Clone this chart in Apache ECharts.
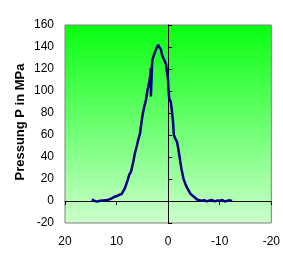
<!DOCTYPE html>
<html>
<head>
<meta charset="utf-8">
<script src="https://cdn.jsdelivr.net/npm/echarts@6/dist/echarts.min.js"></script>
<style>html,body{margin:0;padding:0;background:#fff}#c{width:283px;height:270px}</style>
</head>
<body>
<div id="c"></div>
<script>
var xValues = [14.8, 14.4, 14.1, 13.7, 13.2, 12.9, 12.4, 11.85, 11.4, 10.95, 10.4, 9.9, 9.45, 9.0, 8.65, 8.4, 8.1, 7.85, 7.55, 7.2, 6.9, 6.7, 6.45, 6.1, 5.8, 5.45, 5.25, 5.05, 4.9, 4.7, 4.45, 4.3, 4.0, 3.65, 3.45, 3.35, 3.35, 3.1, 2.95, 2.7, 2.5, 2.25, 1.95, 1.7, 1.4, 1.2, 0.95, 0.65, 0.4, 0.25, 0.05, -0.05, -0.2, -0.5, -0.7, -0.95, -1.1, -1.35, -1.7, -1.95, -2.25, -2.55, -2.95, -3.4, -3.9, -4.4, -5.0, -5.5, -6.0, -6.5, -7.0, -7.5, -8.0, -8.5, -9.0, -9.5, -10.0, -10.5, -11.0, -11.5, -12.0, -12.4];
var pressure = [1.5, 0.3, -1.2, -0.6, 0.3, -1.2, 0.6, 0.9, 1.5, 2.4, 3.9, 4.5, 5.7, 6.4, 7.6, 11.5, 15.5, 18.9, 23.7, 26.7, 32.8, 37, 43.4, 49.5, 55.6, 61.6, 69, 75.3, 79.8, 84.4, 89, 92, 101, 108.7, 114.8, 121, 95, 127, 130, 131.5, 136, 139, 142, 141.5, 137.5, 133, 130, 127, 124, 118, 112, 102.6, 93, 90.4, 83, 72, 60, 57, 54, 48, 38.9, 29.8, 20.6, 14.6, 10, 6.1, 3.9, 1.8, 0.6, 0.2, 0.8, -0.3, 0.5, 0.9, -0.4, 0.4, 0.2, 0.9, -0.5, 0.3, 0.6, 0.1];
var xTicks = {min: -20, max: 20, interval: 10};
var yTicks = {min: -20, max: 160, interval: 20};
var yTitle = 'Pressung P in MPa';

var data = xValues.map(function (x, i) { return [x, pressure[i]]; });
var font = 'Arial, "Liberation Sans", sans-serif';

var chart = echarts.init(document.getElementById('c'), null, {renderer: 'canvas'});
chart.setOption({
  animation: false,
  grid: {
    left: 65, right: 11, top: 25, bottom: 47,
    show: true,
    borderColor: '#808080', borderWidth: 1,
    backgroundColor: {
      type: 'linear', x: 0, y: 0, x2: 0, y2: 1,
      colorStops: [
        {offset: 0, color: '#08FF10'},
        {offset: 1, color: '#CCFFCC'}
      ]
    }
  },
  xAxis: [
    {
      type: 'value', min: xTicks.min, max: xTicks.max, interval: xTicks.interval,
      inverse: true, position: 'bottom',
      axisLine: {show: false, onZero: false},
      axisTick: {show: false},
      splitLine: {show: false},
      axisLabel: {color: '#000', fontSize: 12, fontFamily: font, margin: 13}
    },
    {
      type: 'value', min: xTicks.min, max: xTicks.max, interval: xTicks.interval,
      inverse: true, position: 'bottom',
      axisLine: {show: true, onZero: true, onZeroAxisIndex: 0, lineStyle: {color: '#000', width: 1}},
      axisTick: {show: true, length: 4, lineStyle: {color: '#000'}},
      splitLine: {show: false},
      axisLabel: {show: false}
    }
  ],
  yAxis: [
    {
      type: 'value', min: yTicks.min, max: yTicks.max, interval: yTicks.interval,
      position: 'left',
      axisLine: {show: false, onZero: false},
      axisTick: {show: false},
      splitLine: {show: false},
      axisLabel: {color: '#000', fontSize: 12, fontFamily: font, margin: 11}
    },
    {
      type: 'value', min: yTicks.min, max: yTicks.max, interval: yTicks.interval,
      position: 'left',
      axisLine: {show: true, onZero: true, onZeroAxisIndex: 0, lineStyle: {color: '#000', width: 1}},
      axisTick: {show: true, inside: true, length: 4, lineStyle: {color: '#000'}},
      splitLine: {show: false},
      axisLabel: {show: false}
    }
  ],
  graphic: [{
    type: 'text',
    x: 20, y: 122,
    rotation: Math.PI / 2,
    style: {
      text: yTitle,
      fill: '#000',
      font: 'bold 13px Arial, "Liberation Sans", sans-serif',
      align: 'center',
      verticalAlign: 'middle'
    }
  }],
  series: [{
    type: 'line',
    xAxisIndex: 0, yAxisIndex: 0,
    data: data,
    showSymbol: false,
    symbol: 'none',
    lineStyle: {color: '#000080', width: 2.5}
  }]
});
</script>
</body>
</html>
